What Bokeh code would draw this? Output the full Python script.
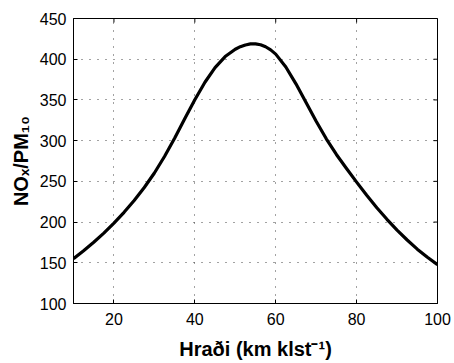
import math
from bokeh.plotting import figure
from bokeh.models import FixedTicker, Range1d
from bokeh.embed import file_html
from bokeh.resources import INLINE

# Data
speed = [10, 12.5, 15, 17.5, 20, 22.5, 25, 27.5, 30, 32.5, 35, 37.5, 40, 42.5,
         45, 47.5, 50, 51.25, 52.5, 53.75, 55, 56.25, 57.5, 58.75, 60, 62.5, 65,
         67.5, 70, 72.5, 75, 77.5, 80, 82.5, 85, 87.5, 90, 92.5, 95, 97.5, 100]
ratio = [155, 164.75, 175.25, 186.5, 198.75, 212, 226.5, 242.5, 260.25, 280.5,
         303, 326.75, 350.25, 371.75, 389.75, 403.25, 412.25, 415.4, 417.5, 418.8,
         418.9, 417.8, 415.3, 411.5, 406.25, 390.5, 369.75, 346.75, 323.75, 302.25,
         283, 265.75, 249, 232.9, 217.6, 203.4, 190.2, 178, 166.75, 156.75, 147.75]

x_ticks = [20, 40, 60, 80, 100]
y_ticks = [100, 150, 200, 250, 300, 350, 400, 450]
x_label = "Hraði (km klst\u207b\u00b9)"
y_label = "NO\u2093/PM\u2081\u2080"

FONT = "Liberation Sans"

p = figure(width=454, height=363, x_range=Range1d(10, 100), y_range=Range1d(100, 450),
           output_backend="svg", toolbar_location=None,
           min_border_left=73, min_border_right=17, min_border_top=18, min_border_bottom=60)
p.background_fill_color = "white"
p.border_fill_color = "white"
p.outline_line_color = "black"
p.outline_line_width = 1

p.line(speed, ratio, line_color="black", line_width=3.2, line_join="round")

# inward ticks on the top and right edges (half of each dash is clipped by the frame)
p.scatter(x=x_ticks, y=[p.y_range.end] * len(x_ticks), marker="dash", angle=math.pi / 2,
          size=8, line_color="black", line_width=1)
p.scatter(x=[p.x_range.end] * len(y_ticks), y=y_ticks, marker="dash", angle=0,
          size=8, line_color="black", line_width=1)

for ax in (p.xaxis[0], p.yaxis[0]):
    ax.major_tick_in = 4
    ax.major_tick_out = 0
    ax.minor_tick_in = 0
    ax.minor_tick_out = 0
    ax.axis_line_color = "black"
    ax.major_tick_line_color = "black"
    ax.major_label_text_font = FONT
    ax.major_label_text_font_size = "16px"
    ax.major_label_text_color = "black"
    ax.axis_label_text_font = FONT
    ax.axis_label_text_font_size = "20px"
    ax.axis_label_text_font_style = "bold"
    ax.axis_label_text_color = "black"
p.xaxis[0].ticker = FixedTicker(ticks=x_ticks)
p.yaxis[0].ticker = FixedTicker(ticks=y_ticks)
p.xaxis[0].major_label_standoff = 9
p.yaxis[0].major_label_standoff = 7
p.xaxis[0].axis_label = x_label
p.yaxis[0].axis_label = y_label
p.xaxis[0].axis_label_standoff = 10
p.yaxis[0].axis_label_standoff = 5

for g, t in ((p.xgrid[0], x_ticks), (p.ygrid[0], y_ticks)):
    g.ticker = FixedTicker(ticks=t)
    g.grid_line_color = "#444444"
    g.grid_line_dash = "1 7"
    g.grid_line_width = 1

open("out.html", "w").write(file_html(p, INLINE))
